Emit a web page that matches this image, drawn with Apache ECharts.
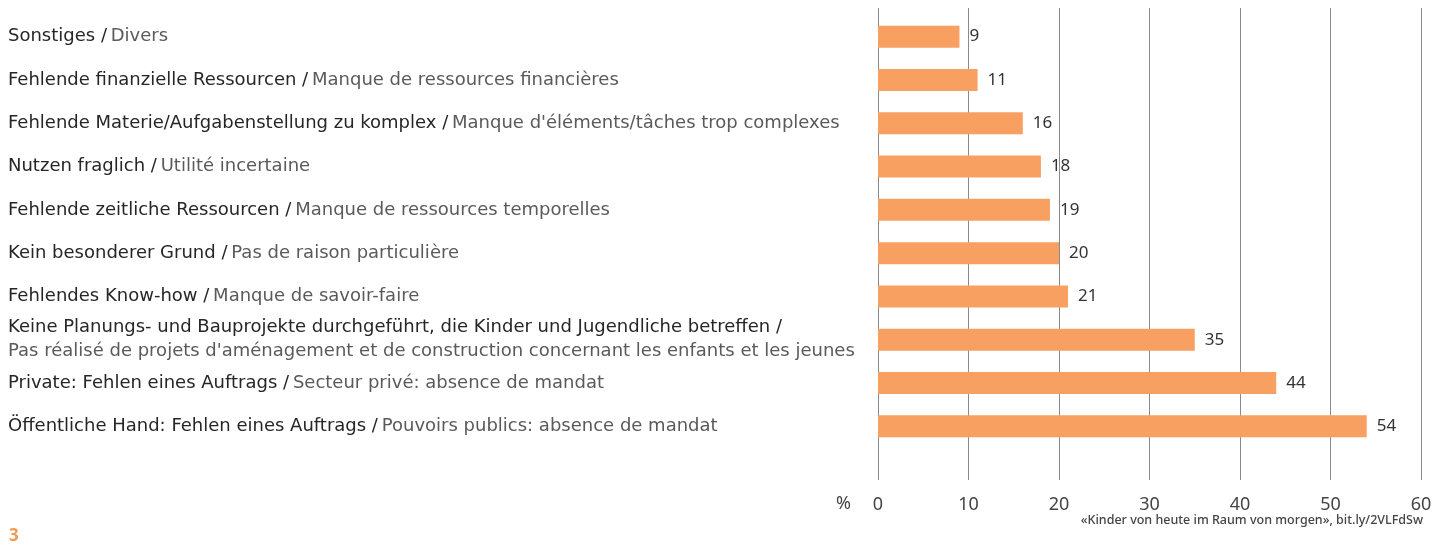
<!DOCTYPE html>
<html>
<head>
<meta charset="utf-8">
<script src="https://cdn.jsdelivr.net/npm/echarts@6/dist/echarts.min.js"></script>
<style>
    html, body { margin: 0; padding: 0; background: #fff; }
    #chart { width: 1440px; height: 545px; }
</style>
</head>
<body>
<div id="chart"></div>
<script>
// Kategorien (oben nach unten)
const deLabels = [
    "Sonstiges",
    "Fehlende finanzielle Ressourcen",
    "Fehlende Materie/Aufgabenstellung zu komplex",
    "Nutzen fraglich",
    "Fehlende zeitliche Ressourcen",
    "Kein besonderer Grund",
    "Fehlendes Know-how",
    "Keine Planungs- und Bauprojekte durchgeführt, die Kinder und Jugendliche betreffen",
    "Private: Fehlen eines Auftrags",
    "Öffentliche Hand: Fehlen eines Auftrags",
];
const frLabels = [
    "Divers",
    "Manque de ressources financières",
    "Manque d'éléments/tâches trop complexes",
    "Utilité incertaine",
    "Manque de ressources temporelles",
    "Pas de raison particulière",
    "Manque de savoir-faire",
    "Pas réalisé de projets d'aménagement et de construction concernant les enfants et les jeunes",
    "Secteur privé: absence de mandat",
    "Pouvoirs publics: absence de mandat",
];
const wrapRows = [7]; // Französisch auf zweiter Zeile
const values = [9, 11, 16, 18, 19, 20, 21, 35, 44, 54];
const xTicks = [0, 60, 10]; // min, max, interval

const FONT = "'DejaVu Sans', sans-serif";
const NUM_FONT = "'Noto Sans', sans-serif";
const chart = echarts.init(document.getElementById("chart"));

const option = {
    backgroundColor: "#fff",
    animation: false,
    textStyle: { fontFamily: FONT },
    grid: [
        // nur Gitterlinien + Achsenbeschriftung
        { left: 878, right: 19, top: 8, bottom: 65 },
        // Balken
        { left: 878, right: 19, top: 15, height: 433 },
    ],
    xAxis: [
        {
            gridIndex: 0,
            type: "value",
            min: xTicks[0],
            max: xTicks[1],
            interval: xTicks[2],
            axisLine: { show: false },
            axisTick: { show: false },
            axisLabel: { color: "#444", fontSize: 18, margin: 16, fontFamily: NUM_FONT },
            splitLine: { show: true, lineStyle: { color: "#8a8a8a", width: 1 } },
        },
        {
            gridIndex: 1,
            type: "value",
            min: xTicks[0],
            max: xTicks[1],
            show: false,
        },
    ],
    yAxis: [
        { gridIndex: 0, type: "value", show: false },
        {
            gridIndex: 1,
            type: "category",
            inverse: true,
            data: deLabels,
            axisLine: { show: false },
            axisTick: { show: false },
            axisLabel: {
                align: "left",
                margin: 870,
                formatter: (de, i) => {
                    const sep = wrapRows.includes(i) ? "\n" : " ";
                    return `{de|${de} /}${sep}{fr|${frLabels[i]}}`;
                },
                rich: {
                    de: { color: "#262626", fontSize: 18, fontFamily: FONT, lineHeight: 24 },
                    fr: { color: "#5a5a5a", fontSize: 18, fontFamily: FONT, lineHeight: 24 },
                },
            },
        },
    ],
    series: [
        {
            type: "bar",
            xAxisIndex: 1,
            yAxisIndex: 1,
            data: values,
            barWidth: 22,
            itemStyle: { color: "#f8a062" },
            label: {
                show: true,
                position: "right",
                distance: 10,
                color: "#333",
                fontSize: 17,
                fontFamily: NUM_FONT,
            },
        },
    ],
    graphic: [
        {
            type: "text",
            left: 836,
            top: 495,
            style: { text: "%", fill: "#444", fontSize: 18, fontFamily: NUM_FONT },
        },
        {
            type: "text",
            left: 9,
            top: 528,
            style: { text: "3", fill: "#f29a55", fontSize: 17, fontWeight: "bold", fontFamily: NUM_FONT },
        },
        {
            type: "text",
            right: 17,
            top: 514,
            style: {
                text: "«Kinder von heute im Raum von morgen», bit.ly/2VLFdSw",
                fill: "#444",
                fontSize: 12.5,
                fontWeight: 500,
                fontFamily: NUM_FONT,
            },
        },
    ],
};

chart.setOption(option);
</script>
</body>
</html>
